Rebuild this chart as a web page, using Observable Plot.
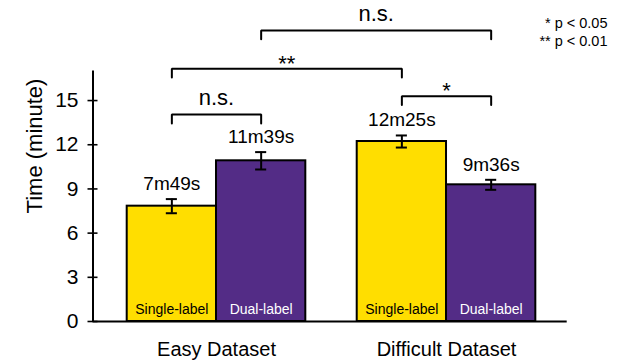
<!DOCTYPE html>
<html><head><meta charset="utf-8">
<script src="https://cdn.jsdelivr.net/npm/d3@7"></script>
<script src="https://cdn.jsdelivr.net/npm/@observablehq/plot@0.6"></script>
<style>
body{margin:0;background:#fff;}
#wrap{position:relative;width:628px;height:362px;font-family:"Liberation Sans",Arial,sans-serif;}
#legend{position:absolute;right:20.5px;top:13.5px;text-align:right;font-size:14.5px;line-height:18px;color:#000;}
#ytitle{position:absolute;left:34.5px;top:146px;white-space:nowrap;font-size:22px;line-height:1.149;color:#000;transform:translate(-50%,-50%) rotate(-90deg);}
svg{overflow:visible;}
</style></head><body><div id="wrap"><div id="legend"></div><div id="ytitle"></div></div>
<script>
// ---- data ----
const datasets = ["Easy Dataset", "Difficult Dataset"];
const conditions = ["Single-label", "Dual-label"];
// bar order: Easy/Single, Easy/Dual, Difficult/Single, Difficult/Dual
const meanTime = [7.83, 10.91, 12.22, 9.28];
const stdErr = [0.48, 0.59, 0.41, 0.34];
const timeLabels = ["7m49s", "11m39s", "12m25s", "9m36s"];
const yTicks = [0, 3, 6, 9, 12, 15];
const yTitle = "Time (minute)";
// significance comparisons (bar indices), label and bracket level (minutes)
const compFrom = [0, 2, 0, 1];
const compTo = [1, 3, 2, 3];
const compLabel = ["n.s.", "*", "**", "n.s."];
const compLevel = [14.05, 15.3, 17.16, 19.76];
const legendLines = ["* p < 0.05", "** p < 0.01"];

// ---- layout / style ----
const GAP = 0.5756;               // gap between groups, in bar widths
const xDomain = [-0.383, 4.927];
const barColors = ["#FFDE00", "#532C86"];
const labelColors = ["#000", "#fff"];
const TIP = 0.6;
const CAP = 0.062;
const FONT = "'Liberation Sans', Arial, sans-serif";

const pos = i => Math.floor(i / 2) * (2 + GAP) + (i % 2);
const rows = meanTime.map((m, i) => ({
  group: datasets[Math.floor(i / 2)],
  cond: conditions[i % 2],
  x1: pos(i), x2: pos(i) + 1, xc: pos(i) + 0.5,
  mean: m, lo: m - stdErr[i], hi: m + stdErr[i],
  label: timeLabels[i],
  textFill: labelColors[i % 2]
}));
const groupRows = datasets.map((d, g) => ({name: d, xc: (pos(2 * g) + pos(2 * g + 1) + 1) / 2}));
const bracketPts = [];
compFrom.forEach((a, k) => {
  const xa = rows[a].xc, xb = rows[compTo[k]].xc, lv = compLevel[k];
  bracketPts.push({k, x: xa, y: lv - TIP}, {k, x: xa, y: lv}, {k, x: xb, y: lv}, {k, x: xb, y: lv - TIP});
});
const bracketLabels = compFrom.map((a, k) => ({
  x: (rows[a].xc + rows[compTo[k]].xc) / 2, y: compLevel[k], label: compLabel[k]
}));

const chart = Plot.plot({
  width: 628, height: 362,
  marginLeft: 92.5, marginRight: 61.3, marginTop: 70.6, marginBottom: 41,
  x: {domain: xDomain, axis: null},
  y: {domain: [0, 17], axis: null},
  color: {domain: conditions, range: barColors},
  style: {fontFamily: FONT, background: "transparent", color: "#000"},
  marks: [
    Plot.rect(rows, {x1: "x1", x2: "x2", y1: 0, y2: "mean", fill: "cond", stroke: "#000", strokeWidth: 2}),
    Plot.ruleX(rows, {x: "xc", y1: "lo", y2: "hi", strokeWidth: 2}),
    Plot.ruleY(rows, {y: "lo", x1: d => d.xc - CAP, x2: d => d.xc + CAP, strokeWidth: 2}),
    Plot.ruleY(rows, {y: "hi", x1: d => d.xc - CAP, x2: d => d.xc + CAP, strokeWidth: 2}),
    Plot.text(rows, {x: "xc", y: "hi", text: "label", lineAnchor: "bottom", dy: -9, fontSize: 19}),
    Plot.text(rows, {x: "xc", y: 0, text: "cond", fill: "textFill", lineAnchor: "bottom", dy: -8, fontSize: 14}),
    Plot.text(groupRows, {x: "xc", y: 0, text: "name", lineAnchor: "bottom", dy: 34.7, fontSize: 20}),
    Plot.ruleY([0], {strokeWidth: 2}),
    Plot.ruleX([xDomain[0]], {strokeWidth: 2}),
    Plot.axisY(yTicks, {anchor: "left", tickSize: 10, dx: 5, tickPadding: 9.5, fontSize: 21, strokeWidth: 1.6, label: null}),
    Plot.line(bracketPts, {x: "x", y: "y", z: "k", strokeWidth: 2, strokeLinejoin: "miter", curve: "linear"}),
    Plot.text(bracketLabels.filter(d => d.label === "n.s."), {x: "x", y: "y", text: "label", lineAnchor: "bottom", dy: -9.5, fontSize: 22}),
    Plot.text(bracketLabels.filter(d => d.label !== "n.s."), {x: "x", y: "y", text: "label", lineAnchor: "bottom", dy: 2, fontSize: 22})
  ]
});
const wrap = document.getElementById("wrap");
wrap.insertBefore(chart, wrap.firstChild);
document.getElementById("legend").innerHTML = legendLines.map(s => `<div>${s}</div>`).join("");
document.getElementById("ytitle").textContent = yTitle;
</script>
</body></html>
